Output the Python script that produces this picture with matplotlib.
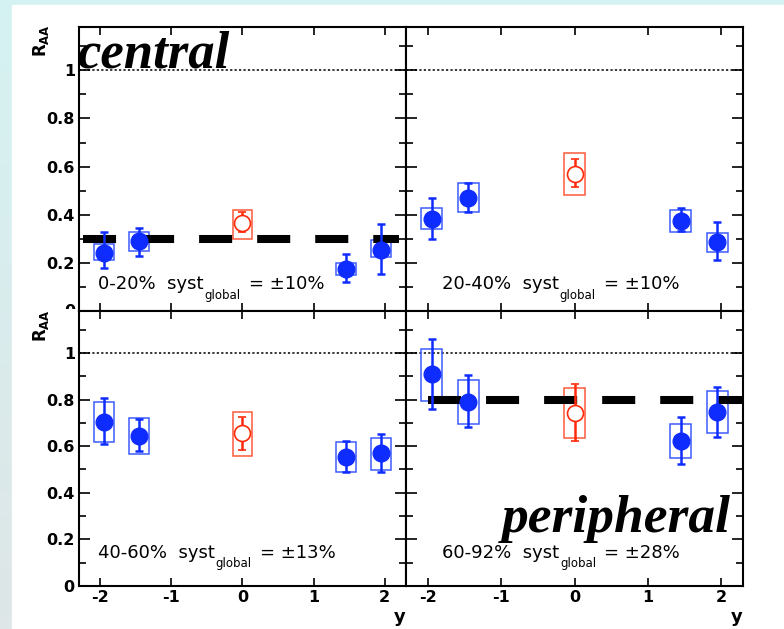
import numpy as np
import matplotlib
matplotlib.use('Agg')
import matplotlib.pyplot as plt
from matplotlib.transforms import Bbox, blended_transform_factory

plt.rcParams['font.family'] = 'DejaVu Sans'
plt.rcParams['mathtext.fontset'] = 'dejavusans'
plt.rcParams['lines.scale_dashes'] = False

# rapidity bins, the middle one (y=0) is the red open point
rap = [-1.95, -1.45, 0.0, 1.45, 1.95]
centrality = ['0-20%', '20-40%', '40-60%', '60-92%']
syst_global = ['\u00b110%', '\u00b110%', '\u00b113%', '\u00b128%']

raa = [[0.24, 0.29, 0.365, 0.175, 0.255],
       [0.383, 0.47, 0.57, 0.375, 0.287],
       [0.705, 0.644, 0.655, 0.555, 0.57],
       [0.91, 0.791, 0.741, 0.624, 0.748]]
stat_lo = [[0.18, 0.23, 0.33, 0.12, 0.155],
           [0.30, 0.413, 0.515, 0.333, 0.21],
           [0.609, 0.579, 0.584, 0.49, 0.49],
           [0.76, 0.684, 0.622, 0.524, 0.641]]
stat_hi = [[0.33, 0.345, 0.41, 0.235, 0.36],
           [0.47, 0.533, 0.63, 0.43, 0.37],
           [0.806, 0.717, 0.727, 0.622, 0.651],
           [1.059, 0.907, 0.866, 0.727, 0.853]]
sys_lo = [[0.21, 0.25, 0.30, 0.15, 0.225],
          [0.34, 0.41, 0.483, 0.33, 0.246],
          [0.62, 0.565, 0.559, 0.488, 0.498],
          [0.794, 0.695, 0.634, 0.548, 0.655]]
sys_hi = [[0.28, 0.33, 0.42, 0.20, 0.295],
          [0.43, 0.53, 0.655, 0.42, 0.325],
          [0.79, 0.72, 0.748, 0.62, 0.634],
          [1.017, 0.884, 0.848, 0.695, 0.838]]

# thick dashed reference lines (panel index -> level, x range)
ref_lines = {0: (0.3, -2.25, 2.2), 3: (0.8, -2.0, 2.3)}

blue = '#0f2cff'
blue_box = '#3d5cff'
red = '#ff2a0a'
red_box = '#ff5a3c'

W, H = 784, 629
fig = plt.figure(figsize=(W / 100, H / 100), dpi=100)

# cyan slide background with white page
bg = fig.add_axes([0, 0, 1, 1], zorder=-10)
grad = np.linspace(0, 1, 50)[:, None, None]
top_c = np.array([213, 242, 242]) / 255
bot_c = np.array([222, 230, 231]) / 255
bg.imshow(top_c * (1 - grad) + bot_c * grad, aspect='auto', extent=[0, 1, 0, 1])
bg.add_patch(plt.Rectangle((12 / W, 0), 1, 1 - 5 / H, color='white'))
bg.set_xlim(0, 1)
bg.set_ylim(0, 1)
bg.axis('off')


def rect(x0, y0, x1, y1):
    return [x0 / W, 1 - y1 / H, (x1 - x0) / W, (y1 - y0) / H]


L, M, R = 79, 406, 743
T, C, B = 27, 311, 586
axes = [fig.add_axes(rect(L, T, M, C)), fig.add_axes(rect(M, T, R, C)),
        fig.add_axes(rect(L, C, M, B)), fig.add_axes(rect(M, C, R, B))]

for i, ax in enumerate(axes):
    v = np.array(raa[i])
    slo, shi = np.array(stat_lo[i]), np.array(stat_hi[i])
    ylo, yhi = np.array(sys_lo[i]), np.array(sys_hi[i])
    x = np.array(rap)
    isred = x == 0
    isblue = ~isred

    ax.set_xlim(-2.3, 2.3)
    ax.set_ylim(0, 1.18)
    ax.axhline(1, color='k', lw=1.1, dashes=(1.6, 1.6), zorder=1)

    ax.bar(x[isblue], (yhi - ylo)[isblue], bottom=ylo[isblue], width=0.28,
           fill=False, edgecolor=blue_box, linewidth=1.1, zorder=2)
    ax.bar(x[isred], (yhi - ylo)[isred], bottom=ylo[isred], width=0.28,
           fill=False, edgecolor=red_box, linewidth=1.1, zorder=2)

    if i in ref_lines:
        lvl, xa, xb = ref_lines[i]
        ax.plot([xa, xb], [lvl, lvl], color='k', lw=5.8, dashes=(23.8, 18),
                dash_capstyle='butt', zorder=3)

    ax.errorbar(x[isblue], v[isblue],
                yerr=[(v - slo)[isblue], (shi - v)[isblue]],
                fmt='o', color=blue, ms=12, elinewidth=1.8, capsize=2.6,
                capthick=1.8, zorder=4)
    ax.errorbar(x[isred], v[isred],
                yerr=[(v - slo)[isred], (shi - v)[isred]],
                fmt='o', color=red, mfc='white', mec=red, mew=1.2, ms=11.5,
                elinewidth=1.8, capsize=2.6, capthick=1.8, zorder=4)

    ax.set_xticks([-2, -1, 0, 1, 2])
    ax.set_yticks(np.arange(0, 1.01, 0.2))
    ax.set_yticks(np.arange(0.1, 1.15, 0.2), minor=True)
    ax.tick_params(which='both', direction='in', top=True, right=True, width=1.2)
    ax.tick_params(axis='y', which='major', length=8)
    ax.tick_params(axis='y', which='minor', length=5)
    ax.tick_params(axis='x', which='major', length=6)
    for s in ax.spines.values():
        s.set_linewidth(1.5)

    if i % 2 == 0:
        labels = ['0', '0.2', '0.4', '0.6', '0.8', '1']
        if i == 0:
            labels[0] = ''
        ax.set_yticklabels(labels, fontsize=11.5, fontweight='bold')
        ax.tick_params(axis='y', pad=3)
    else:
        ax.set_yticklabels([])
    if i >= 2:
        ax.set_xticklabels(['-2', '-1', '0', '1', '2'], fontsize=11.5,
                           fontweight='bold')
        ax.tick_params(axis='x', pad=3)
        ax.set_xlabel('y', loc='right', fontsize=13, fontweight='bold',
                      labelpad=2)
    else:
        ax.set_xticklabels([])

    # "xx%  syst_global = +-yy%" label
    tx = 0.058 if i % 2 == 0 else 0.107
    ty = 0.062 if i < 2 else 0.089
    t1 = ax.text(tx, ty, centrality[i] + '  syst', transform=ax.transAxes,
                 fontsize=13, va='bottom', zorder=6)
    t2 = ax.annotate('global', xy=(1, 0), xycoords=t1, xytext=(0.5, 3),
                     textcoords='offset points', fontsize=8.5, va='top',
                     ha='left', zorder=6)
    ax.annotate('= ' + syst_global[i], xy=(1, 0), xycoords=(t2, t1),
                xytext=(6, 0), textcoords='offset points', fontsize=13,
                va='bottom', ha='left', zorder=6)

# partly hidden "0" of the upper left panel
tr = blended_transform_factory(fig.transFigure, axes[0].transData)
zero = fig.text((L - 4) / W, 0, '0', transform=tr, fontsize=11.5,
                fontweight='bold', ha='right', va='center')
zero.set_clip_box(Bbox.from_extents(0, H - C + 2, W, H))
zero.set_clip_on(True)

# R_AA axis titles
for ytop in (24, 309):
    fig.text(41 / W, 1 - ytop / H, r'$\mathbf{R_{AA}}$', rotation=90,
             ha='center', va='top', fontsize=12)

fig.text(77 / W, 1 - 67 / H, 'central', fontsize=38, family='Liberation Serif',
         fontweight='bold', fontstyle='italic', va='baseline', zorder=10)
fig.text(502 / W, 1 - 532 / H, 'peripheral', fontsize=38.5,
         family='Liberation Serif', fontweight='bold', fontstyle='italic',
         va='baseline', zorder=10)

fig.savefig('out.png', dpi=100)
